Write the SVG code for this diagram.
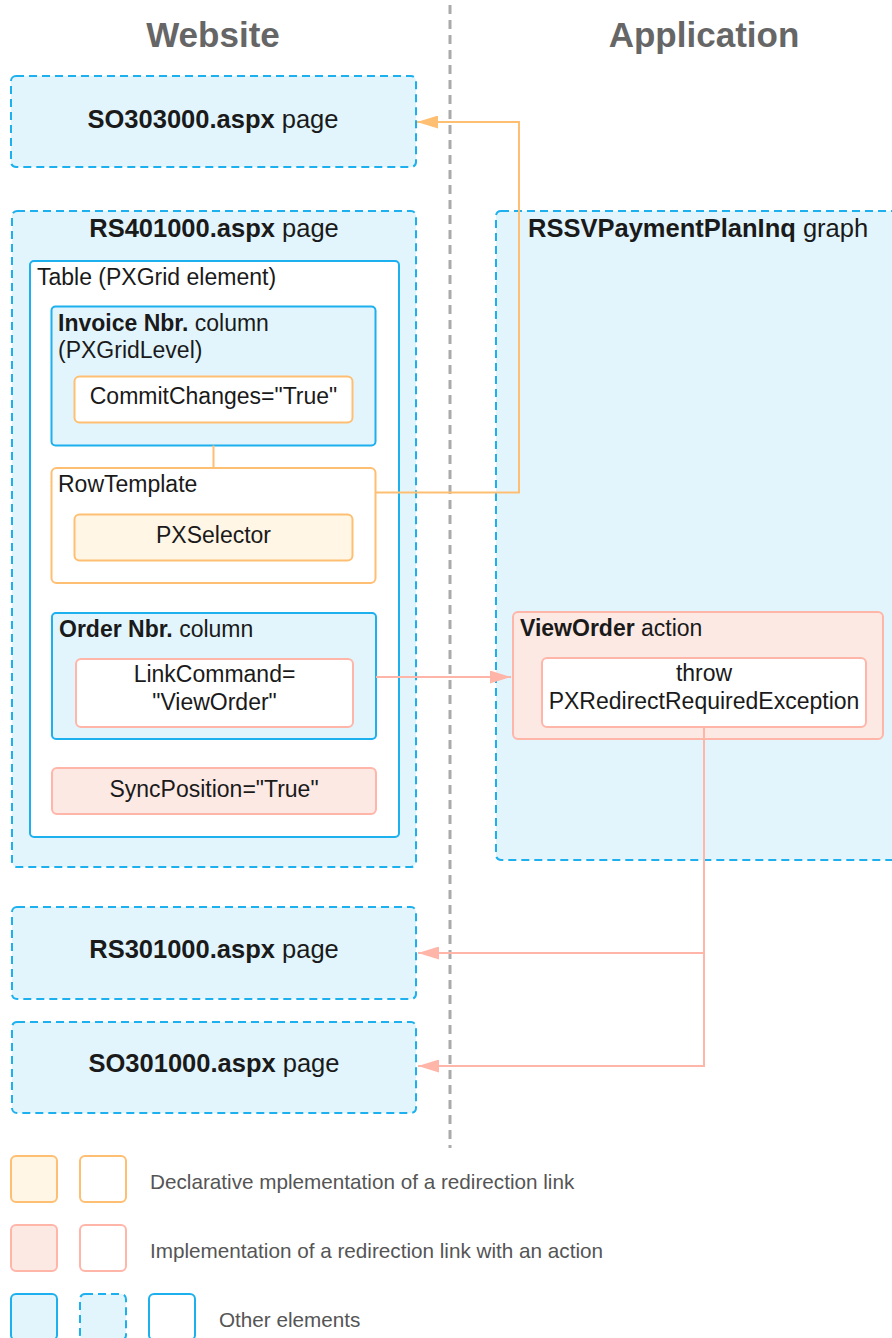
<svg xmlns="http://www.w3.org/2000/svg" width="892" height="1338" viewBox="0 0 892 1338">
<style>
text{font-family:"Liberation Sans",Arial,sans-serif;fill:#1a1a1a}
.hdr{font-size:35px;font-weight:bold;fill:#666;text-anchor:middle}
.ttl{font-size:25.5px}
.in{font-size:23px}
.c{text-anchor:middle}
.b{font-weight:bold}
.leg{font-size:20.7px;fill:#555}
.bd{fill:#e2f5fd;stroke:#1cb0ee;stroke-width:2;stroke-dasharray:8 5}
.bs{fill:#e2f5fd;stroke:#1cb0ee;stroke-width:2}
.bw{fill:#fff;stroke:#1cb0ee;stroke-width:2}
.ow{fill:#fff;stroke:#ffbf72;stroke-width:2}
.of{fill:#fff6e6;stroke:#ffbf72;stroke-width:2}
.sw{fill:#fff;stroke:#ffb5a8;stroke-width:2}
.sf{fill:#fde9e4;stroke:#ffb5a8;stroke-width:2}
.co{fill:none;stroke:#ffbf72;stroke-width:2}
.cs{fill:none;stroke:#ffb5a8;stroke-width:2}
</style>
<defs>
<marker id="aO" viewBox="0 0 21 13" refX="21" refY="6.5" markerWidth="21" markerHeight="13" markerUnits="userSpaceOnUse" orient="auto"><path d="M0,0 L21,6.5 L0,13 z" fill="#ffbf72"/></marker>
<marker id="aS" viewBox="0 0 21 13" refX="21" refY="6.5" markerWidth="21" markerHeight="13" markerUnits="userSpaceOnUse" orient="auto"><path d="M0,0 L21,6.5 L0,13 z" fill="#ffb5a8"/></marker>
</defs>
<rect width="892" height="1338" fill="#fff"/>
<g id="headers">
<text class="hdr" x="213" y="47">Website</text>
<text class="hdr" x="704" y="47">Application</text>
<line x1="450" y1="5" x2="450" y2="1148" stroke="#aaa" stroke-width="3" stroke-dasharray="9 6"/>
</g>
<g id="so303000"><rect class="bd" x="11" y="76" width="405" height="91" rx="5"/><text class="ttl c" x="213" y="128"><tspan class="b">SO303000.aspx</tspan> page</text></g>
<g id="rs401000"><rect class="bd" x="12" y="211" width="404" height="656" rx="5"/><text class="ttl c" x="214" y="237"><tspan class="b">RS401000.aspx</tspan> page</text></g>
<g id="table"><rect class="bw" x="30" y="261" width="369" height="576" rx="4"/><text class="in" x="37" y="285">Table (PXGrid element)</text></g>
<g id="invoice"><rect class="bs" x="51.5" y="306.5" width="324" height="139" rx="4"/><text class="in" x="58" y="331"><tspan class="b">Invoice Nbr.</tspan> column</text><text class="in" x="58" y="358">(PXGridLevel)</text></g>
<g id="commit"><rect class="ow" x="74.5" y="376.5" width="278" height="46" rx="5"/><text class="in c" x="213.5" y="404">CommitChanges="True"</text></g>
<g id="rowtemplate"><rect class="ow" x="51.5" y="468" width="324" height="115" rx="5"/><text class="in" x="58" y="492">RowTemplate</text></g>
<g id="pxselector"><rect class="of" x="74.5" y="514.5" width="278" height="46" rx="5"/><text class="in c" x="213.5" y="543">PXSelector</text></g>
<g id="ordernbr"><rect class="bs" x="52" y="613" width="324" height="126" rx="4"/><text class="in" x="59" y="637"><tspan class="b">Order Nbr.</tspan> column</text></g>
<g id="linkcommand"><rect class="sw" x="76" y="659" width="277" height="68" rx="5"/><text class="in c" x="214.5" y="682">LinkCommand=</text><text class="in c" x="214.5" y="710">"ViewOrder"</text></g>
<g id="syncposition"><rect class="sf" x="52" y="768" width="324" height="46" rx="5"/><text class="in c" x="214" y="797">SyncPosition="True"</text></g>
<g id="rssv"><rect class="bd" x="496" y="211" width="412" height="649" rx="5"/><text class="ttl" x="528" y="237"><tspan class="b">RSSVPaymentPlanInq</tspan> graph</text></g>
<g id="vieworder"><rect class="sf" x="513" y="612" width="370" height="127" rx="5"/><text class="in" x="520" y="636"><tspan class="b">ViewOrder</tspan> action</text></g>
<g id="throw"><rect class="sw" x="542" y="658" width="324" height="69" rx="5"/><text class="in c" x="704" y="681">throw</text><text class="in c" x="704" y="709">PXRedirectRequiredException</text></g>
<g id="rs301000"><rect class="bd" x="12" y="907" width="404" height="92" rx="5"/><text class="ttl c" x="214" y="958"><tspan class="b">RS301000.aspx</tspan> page</text></g>
<g id="so301000"><rect class="bd" x="12" y="1022" width="404" height="91" rx="5"/><text class="ttl c" x="214" y="1072"><tspan class="b">SO301000.aspx</tspan> page</text></g>
<g id="connectors">
<line class="co" x1="213.5" y1="445.5" x2="213.5" y2="468"/>
<polyline class="co" points="375.5,492.5 519,492.5 519,122 417,122" marker-end="url(#aO)"/>
<line class="cs" x1="376" y1="677" x2="511" y2="677" marker-end="url(#aS)"/>
<polyline class="cs" points="704,727 704,1066 418,1066" marker-end="url(#aS)"/>
<line class="cs" x1="704" y1="953" x2="418" y2="953" marker-end="url(#aS)"/>
</g>
<g id="legend">
<rect class="of" x="11" y="1156" width="46" height="46" rx="5"/>
<rect class="ow" x="80" y="1156" width="46" height="46" rx="5"/>
<text class="leg" x="150" y="1189">Declarative mplementation of a redirection link</text>
<rect class="sf" x="11" y="1225" width="46" height="46" rx="5"/>
<rect class="sw" x="80" y="1225" width="46" height="46" rx="5"/>
<text class="leg" x="150" y="1258">Implementation of a redirection link with an action</text>
<rect class="bs" x="11" y="1294" width="46" height="46" rx="5"/>
<rect class="bd" x="80" y="1294" width="46" height="46" rx="5"/>
<rect class="bw" x="149" y="1294" width="46" height="46" rx="5"/>
<text class="leg" x="219" y="1327">Other elements</text>
</g>
</svg>
